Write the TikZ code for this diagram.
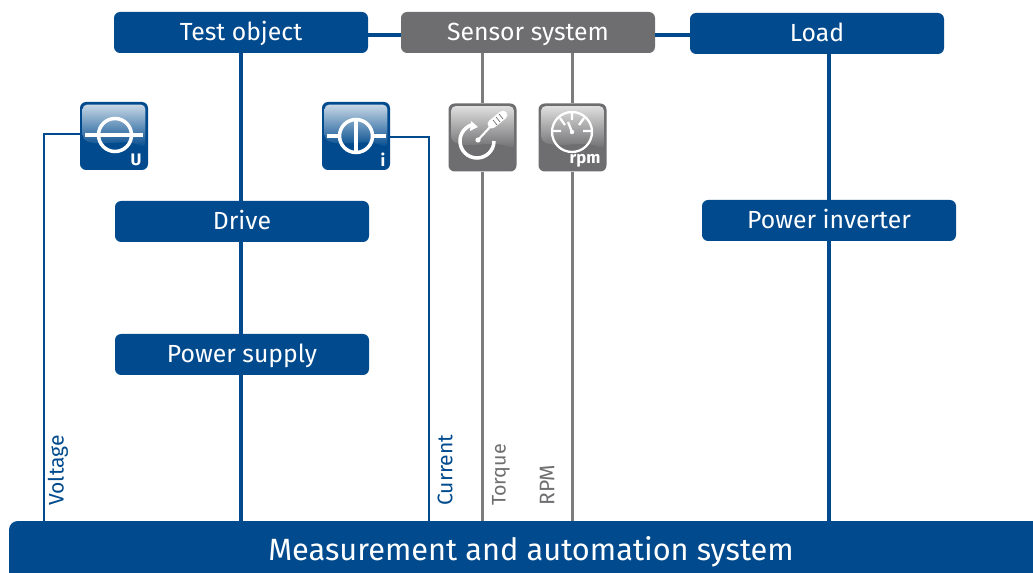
\documentclass[tikz,border=0pt]{standalone}
\usepackage{fontspec}
\setmainfont{Fira Sans}
\usepackage{xcolor}
\usetikzlibrary{positioning}
\definecolor{sysblue}{HTML}{004A8D}
\definecolor{sysgray}{HTML}{6E6D6F}
\tikzset{
  box/.style={fill=sysblue,rounded corners=3.5pt,text=white,minimum width=254*0.02cm,minimum height=41*0.02cm,inner sep=0pt,text height=10.6pt,text depth=2pt,font=\fontsize{14.1}{16}\selectfont},
  graybox/.style={box,fill=sysgray},
  icon/.style={fill=sysblue,rounded corners=3.5pt,minimum size=68*0.02cm,inner sep=0pt},
  grayicon/.style={icon,fill=sysgray},
  wire/.style={sysblue,line width=2.2pt},
  thinwire/.style={sysblue,line width=1.4pt},
  graywire/.style={sysgray!90,line width=1.4pt},
  tag/.style={rotate=90,anchor=west,inner sep=0pt,font=\fontsize{12}{14}\selectfont},
  glyph/.style={white,line width=2pt},
  unit/.style={text=white,inner sep=0pt,font=\fontsize{9.5}{11}\bfseries\selectfont}
}
\begin{document}
\begin{tikzpicture}[x=0.02cm,y=-0.02cm]
\useasboundingbox (0,0) rectangle (1033,573);

% top row
\node[box] (test) at (241,32.5) {Test object};
\node[graybox] (sensor) at (528,32.5) {Sensor system};
\node[box] (load) at (817,33.5) {Load};

% second and third row
\node[box] (drive) at (242,221.5) {Drive};
\node[box] (supply) at (242,354.5) {Power supply};
\node[box] (inverter) at (829,220.5) {Power inverter};

% base bar, open to the right and to the bottom
\fill[sysblue] (1033,573) -- (9,573) [rounded corners=5pt] -- (9,521) [sharp corners] -- (1033,521) -- cycle;
\coordinate (base) at (0,521);
\node[text=white,inner sep=0pt,font=\fontsize{17.5}{20}\selectfont] (system) at (531,552) {Measurement and automation system};

% sensors
\node[icon] (usens) at (114,136) {};
\node[icon] (isens) at (356,136) {};
\node[grayicon] (tsens) at (482.5,137.5) {};
\node[grayicon] (rsens) at (572.5,137.5) {};

% gloss on the sensors
\foreach \n/\c in {usens/sysblue,isens/sysblue,tsens/sysgray,rsens/sysgray} {
  \shade[top color=white!78!\c,bottom color=\c,rounded corners=2.5pt]
    ([shift={(3,3)}]\n.north west) -- ([shift={(-3,3)}]\n.north east) -- ([shift={(-3,46)}]\n.north east)
    .. controls ([shift={(-25,36)}]\n.north east) and ([shift={(-45,46)}]\n.north east) .. ([shift={(3,38)}]\n.north west) -- cycle;
}

% connections
\draw[wire] (test.east |- 0,35) -- (sensor.west |- 0,35);
\draw[wire] (sensor.east |- 0,35) -- (load.west |- 0,35);
\draw[wire] (test) -- (test |- drive.north);
\draw[wire] (test |- drive.south) -- (test |- supply.north);
\draw[wire] (test |- supply.south) -- (test |- base);
\draw[wire] (inverter |- load.south) -- (inverter.north);
\draw[wire] (inverter.south) -- (inverter |- base);
\draw[thinwire] (usens.west |- 0,134) -| (44,521);
\draw[thinwire] (isens.east |- 0,137) -| (429,521);
\draw[graywire] (tsens.north |- sensor.south) -- (tsens.north);
\draw[graywire] (tsens.south) -- (tsens.south |- base);
\draw[graywire] (rsens.north |- sensor.south) -- (rsens.north);
\draw[graywire] (rsens.south) -- (rsens.south |- base);

% voltage symbol
\draw[glyph] (usens.center) ++(1,-1) circle (16.5);
\draw[glyph] (85,135) -- (143,135);
\node[unit] at (136,160) {U};

% current symbol
\draw[glyph] (isens.center) circle (16.5);
\draw[glyph] (327,136) -- (340,136);
\draw[glyph] (373,136) -- (386,136);
\draw[glyph] (356,120) -- (356,152);
\node[unit] at (383,160) {i};

% torque symbol
\draw[glyph] (494,141) arc[start angle=0,end angle=258,radius=17];
\fill[white] (471,121) -- (478,127) -- (470,131) -- cycle;
\draw[white,line width=1.2pt] (478,140) -- (491,126);
\fill[white] (478,140) circle (2.6);
\draw[white,line width=5pt,line cap=round] (492,124) -- (503,115);
\draw[sysgray,line width=0.4pt] (493,120) -- (497,125) (496,117) -- (500,122) (499,114) -- (503,119);

% rpm symbol
\draw[white,line width=1.3pt] (572,132) circle (20);
\draw[white,line width=1.3pt] (572,112) -- (572,120) (552,131) -- (561,131) (583,131) -- (592,131)
  (560,118) -- (565,125) (584,118) -- (579,125);
\draw[white,line width=1.3pt] (572,132) -- (568,122);
\fill[white] (572,132) circle (2.2);
\node[unit] at (585,161) {rpm};

% measured quantities
\node[tag,text=sysblue] (voltage) at (58,506) {Voltage};
\node[tag,text=sysblue] (current) at (445,506) {Current};
\node[tag,text=sysgray,font=\fontsize{11.2}{14}\selectfont] (torque) at (501,506) {Torque};
\node[tag,text=sysgray] (rpm) at (547,506) {RPM};

\end{tikzpicture}
\end{document}
